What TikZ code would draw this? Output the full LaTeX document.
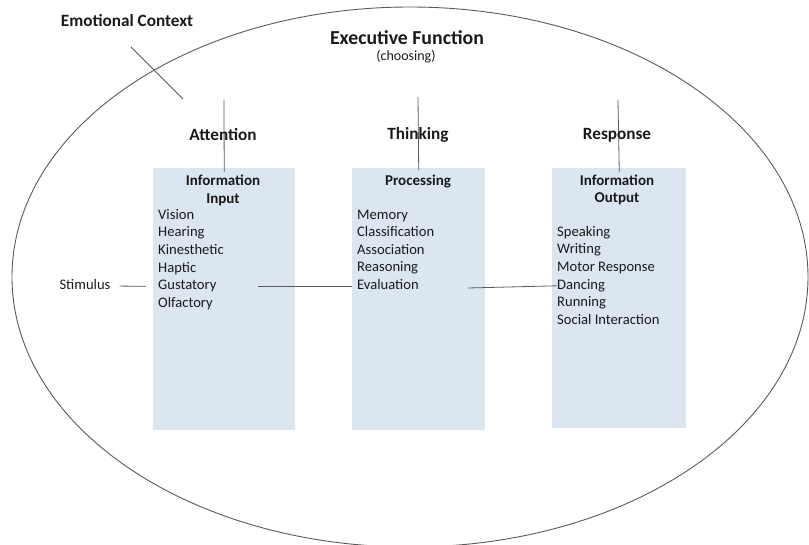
\documentclass[tikz,border=0pt]{standalone}
\usepackage{fontspec}
\setmainfont{Carlito}
\usetikzlibrary{positioning}

\definecolor{panelfill}{HTML}{DCE6F1}
\definecolor{linegray}{HTML}{5A5A5A}
\definecolor{inktext}{HTML}{1A1A1A}

\tikzset{
  bigtitle/.style={font=\bfseries\fontsize{19.8}{23}\selectfont, text=inktext},
  stage/.style={font=\bfseries\fontsize{17.2}{20}\selectfont, text=inktext},
  header/.style={font=\bfseries\fontsize{15}{17.5}\selectfont, align=center, text=inktext},
  item/.style={anchor=west, inner sep=0pt, font=\fontsize{14.6}{17}\selectfont,
    text height=10pt, text depth=3.5pt, text=inktext},
  panel/.style={fill=panelfill, draw=none, anchor=north west, inner sep=0pt},
  link/.style={draw=linegray, line width=0.8pt},
}

\begin{document}
\begin{tikzpicture}[x=1pt, y=-1pt]
\useasboundingbox (0,0) rectangle (809,545);
\clip (0,0) rectangle (809,545);

% outer context
\draw[linegray, line width=0.9pt] (410,277) ellipse [x radius=398, y radius=270];

% three panels
\node[panel, minimum width=142, minimum height=262] (inbox) at (153,168) {};
\node[panel, minimum width=133, minimum height=262] (procbox) at (352,168) {};
\node[panel, minimum width=134, minimum height=260] (outbox) at (552,168) {};

% titles
\node[stage] (context) at (127,21) {Emotional Context};
\node[bigtitle] (exec) at (407,38) {Executive Function};
\node[font=\fontsize{14}{16}\selectfont, text=inktext] (choose) at (406,57) {(choosing)};

% stage lines, drawn under the labels
\coordinate (atttop) at (224,100);
\coordinate (thktop) at (418,97);
\coordinate (restop) at (618,100);
\draw[link, shorten >=-4pt] (atttop) -- (inbox.north);
\draw[link, shorten >=-2pt] (thktop) -- (procbox.north);
\draw[link, shorten >=-4pt] (restop) -- (outbox.north);
\coordinate (ctxa) at (131,47);
\coordinate (ctxb) at (183,99);
\draw[link] (ctxa) -- (ctxb);

\node[stage] (attn) at (223,135) {Attention};
\node[stage] (think) at (418,135) {Thinking};
\node[stage] (resp) at (617,135) {Response};

% panel headers
\node[header] (inhead) at (223,190.5) {Information\\Input};
\node[header] (prochead) at (418,182) {Processing};
\node[header] (outhead) at (617,190) {Information\\Output};

% item lists
\foreach \t [count=\i] in {Vision,Hearing,Kinesthetic,Haptic,Gustatory,Olfactory}
  \node[item] (in\i) at (158,{216+17.6*(\i-1)}) {\t};
\foreach \t [count=\i] in {Memory,Classification,Association,Reasoning,Evaluation}
  \node[item] (proc\i) at (357,{216+17.5*(\i-1)}) {\t};
\foreach \t [count=\i] in {Speaking,Writing,Motor Response,Dancing,Running,Social Interaction}
  \node[item] (out\i) at (557,{233+17.6*(\i-1)}) {\t};

\node[item, anchor=center] (stim) at (85,286) {Stimulus};

% flow across the panels
\coordinate (gusout) at (258,286);
\coordinate (evalout) at (468,288);
\draw[link, shorten <=9pt, shorten >=12pt] (stim.east) -- (in5.west);
\draw[link, shorten >=5pt] (gusout) -- (proc5.west);
\draw[link] (evalout) -- (out4.west);
\end{tikzpicture}
\end{document}
